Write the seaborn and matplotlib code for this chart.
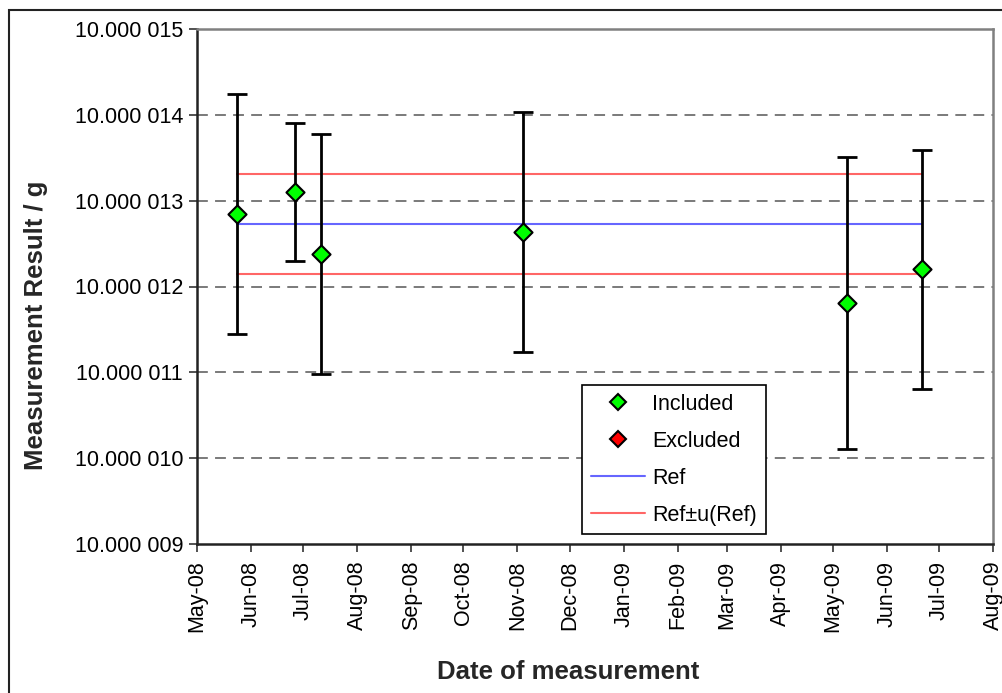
import pandas as pd
import matplotlib.pyplot as plt
import matplotlib.dates as mdates
from matplotlib.ticker import FuncFormatter, FixedLocator
from matplotlib.patches import Rectangle
from matplotlib.lines import Line2D
import seaborn as sns

# measurement dates and results (g) with standard uncertainty (g)
dates = ["2008-05-24", "2008-06-26", "2008-07-11", "2008-11-04", "2009-05-09", "2009-06-21"]
results = [10.0000128485, 10.0000131050, 10.0000123820, 10.0000126350, 10.0000118040, 10.0000122000]
uncert = [0.0000014000, 0.0000008050, 0.0000014000, 0.0000014000, 0.0000017000, 0.0000013950]

excluded_dates = []
excluded_results = []

ref_value = 10.0000127280
ref_u = 0.0000005810

y_ticks = [10.000009, 10.000010, 10.000011, 10.000012, 10.000013, 10.000014, 10.000015]
grid_vals = y_ticks[1:-1]

df = pd.DataFrame({"date": pd.to_datetime(dates), "result": results, "u": uncert})

sns.set_style("white")
plt.rcParams["font.family"] = ["Liberation Sans", "DejaVu Sans"]
plt.rcParams["text.color"] = "black"
plt.rcParams["xtick.color"] = "black"
plt.rcParams["ytick.color"] = "black"

fig = plt.figure(figsize=(10.03, 6.93), dpi=100)
ax = fig.add_axes([197 / 1003, 149 / 693, 796 / 1003, 515 / 693])

# dashed gridlines
for g in grid_vals:
    ax.axhline(g, color="#707070", lw=1.3, ls=(0, (6, 4)), zorder=0)

# reference lines between first and last measurement
span = [df["date"].min(), df["date"].max()]
ref_df = pd.DataFrame({"date": span * 3,
                       "val": [ref_value] * 2 + [ref_value + ref_u] * 2 + [ref_value - ref_u] * 2,
                       "grp": ["ref"] * 2 + ["hi"] * 2 + ["lo"] * 2})
sns.lineplot(data=ref_df[ref_df.grp == "ref"], x="date", y="val", color="#6666ff", lw=1.5, ax=ax, zorder=2)
sns.lineplot(data=ref_df[ref_df.grp == "hi"], x="date", y="val", color="#ff6666", lw=1.5, ax=ax, zorder=2)
sns.lineplot(data=ref_df[ref_df.grp == "lo"], x="date", y="val", color="#ff6666", lw=1.5, ax=ax, zorder=2)

ax.errorbar(df["date"], df["result"], yerr=df["u"], fmt="none", ecolor="black",
            elinewidth=2, capsize=7, capthick=2, zorder=3)
sns.scatterplot(data=df, x="date", y="result", marker="D", s=85, color="#00ff00",
                edgecolor="black", linewidth=1.5, ax=ax, zorder=4)
if excluded_dates:
    ax.scatter(pd.to_datetime(excluded_dates), excluded_results, marker="D", s=85,
               color="#ff0000", edgecolor="black", linewidth=1.5, zorder=4)

ax.set_ylim(y_ticks[0], y_ticks[-1])
ax.set_xlim(pd.Timestamp("2008-05-01"), pd.Timestamp("2009-08-01"))
ax.yaxis.set_major_locator(FixedLocator(y_ticks))
ax.yaxis.set_major_formatter(FuncFormatter(lambda v, p: f"{v:.6f}"[:-3] + " " + f"{v:.6f}"[-3:]))
ax.xaxis.set_major_locator(mdates.MonthLocator())
ax.xaxis.set_major_formatter(mdates.DateFormatter("%b-%y"))
ax.tick_params(axis="x", labelsize=15.5, rotation=90, direction="out", length=6, width=1.2, color="#333333", pad=6)
ax.tick_params(axis="y", labelsize=15.5, direction="out", length=6, width=1.2, color="#333333", pad=4)
ax.tick_params(bottom=True, left=True)

for s in ["left", "bottom"]:
    ax.spines[s].set_color("#222222")
    ax.spines[s].set_linewidth(1.8)
for s in ["top", "right"]:
    ax.spines[s].set_color("#808080")
    ax.spines[s].set_linewidth(1.8)

ax.set_xlabel("Date of measurement", fontsize=18.5, fontweight="bold")
ax.xaxis.label.set_va("baseline")
ax.xaxis.set_label_coords(0.466, -0.262)
ax.set_ylabel("Measurement Result / g", fontsize=18.5, fontweight="bold")
ax.yaxis.label.set_va("baseline")
ax.yaxis.set_label_coords(-0.1935, 0.425)

handles = [
    Line2D([], [], ls="none", marker="D", markersize=8, markerfacecolor="#00ff00", markeredgecolor="black", markeredgewidth=1.5),
    Line2D([], [], ls="none", marker="D", markersize=8, markerfacecolor="#ff0000", markeredgecolor="black", markeredgewidth=1.5),
    Line2D([], [], color="#6666ff", lw=1.5),
    Line2D([], [], color="#ff6666", lw=1.5),
]
leg = ax.legend(handles, ["Included", "Excluded", "Ref", "Ref±u(Ref)"], loc="lower left",
                bbox_to_anchor=(0.484, 0.019), borderaxespad=0, fontsize=15.5, frameon=True,
                fancybox=False, edgecolor="black", framealpha=1, handlelength=2.5,
                handletextpad=0.35, labelspacing=0.74, borderpad=0.4)
leg.get_frame().set_linewidth(1.2)

# outer chart frame
fig.patches.append(Rectangle((9 / 1003, -0.1), 1.2, 1.1 - 10 / 693, transform=fig.transFigure,
                             fill=False, edgecolor="#222222", lw=1.5, clip_on=False))

fig.savefig("out.png", dpi=100)
